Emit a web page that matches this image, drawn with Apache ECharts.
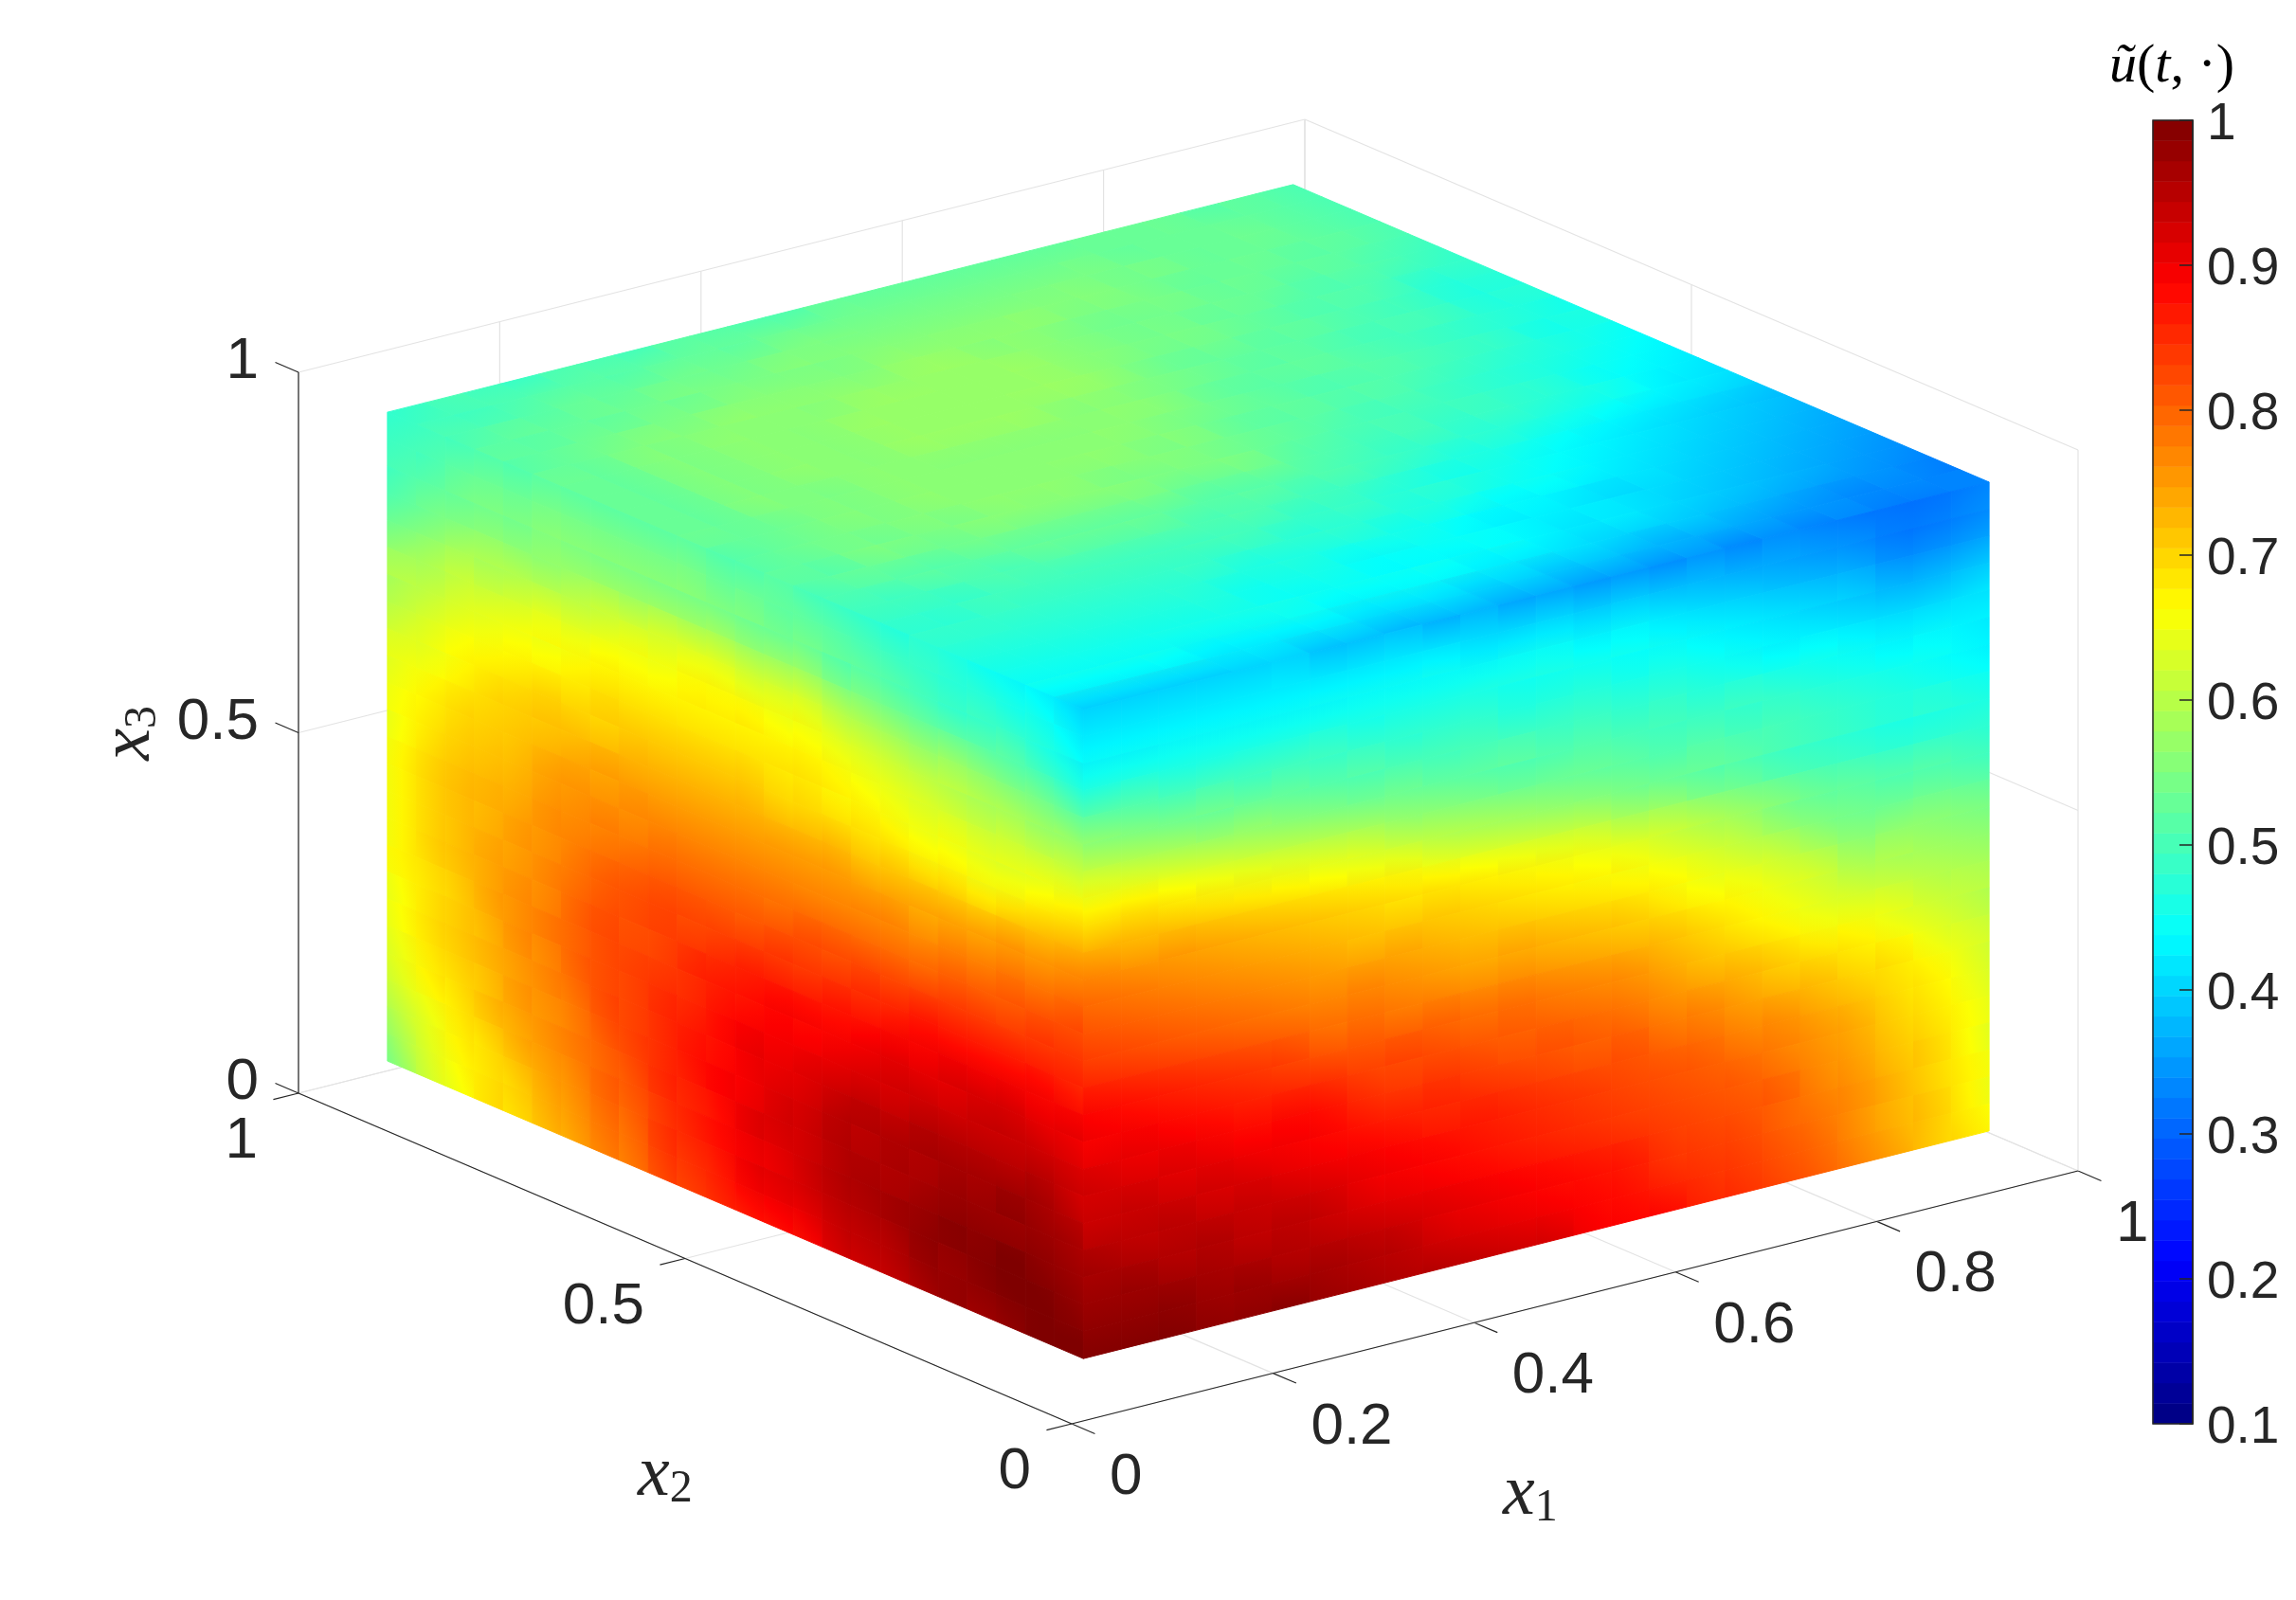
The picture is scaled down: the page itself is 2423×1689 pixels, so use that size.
<!DOCTYPE html>
<html>
<head>
<meta charset="utf-8">
<title>u tilde</title>
<script src="https://cdn.jsdelivr.net/npm/echarts@6/dist/echarts.min.js"></script>
<style>
  html, body { margin: 0; background: #fff; }
  #chart { width: 2423px; height: 1689px; }
</style>
</head>
<body>
<div id="chart"></div>
<script>
// u values in hundredths, one table per visible face
// top face x3=0.95: rows x2 0.95 -> 0.05, cols x1 0.05 -> 0.95
const topFace = [
  [49,50,50,50,51,51,51,52,52,52,52,53,53,53,53,53,53,53,53,53,53,52,52,51],
  [50,50,51,52,52,52,53,53,53,54,54,54,54,54,54,54,54,54,53,53,53,53,52,51],
  [51,52,52,53,53,54,54,54,55,55,55,55,55,55,55,55,55,54,54,53,53,53,52,51],
  [52,52,53,53,54,54,55,55,55,55,56,56,56,56,56,55,55,54,53,53,53,52,52,51],
  [52,53,54,55,55,56,56,56,56,56,57,57,56,56,55,54,54,54,53,53,52,52,51,50],
  [53,53,55,55,56,56,56,56,57,57,57,57,57,56,55,54,54,53,53,52,51,51,50,49],
  [53,53,55,55,56,56,56,57,57,57,57,57,57,56,55,54,54,53,52,51,51,50,48,48],
  [53,53,55,55,56,56,56,57,57,57,57,57,57,56,54,53,53,52,52,51,50,49,47,47],
  [53,53,55,55,56,56,56,57,57,57,57,56,56,55,54,53,52,52,51,50,50,49,47,47],
  [53,53,55,55,55,56,56,56,56,56,56,56,56,55,53,52,52,52,51,50,49,48,47,46],
  [53,53,54,55,55,56,56,56,56,56,56,56,55,54,53,52,51,51,51,50,49,48,46,46],
  [52,53,54,55,55,56,56,56,56,56,56,55,55,53,52,52,51,51,50,49,48,47,46,45],
  [52,53,54,54,55,55,56,56,56,55,55,55,54,53,52,51,50,50,49,48,47,46,45,44],
  [52,52,54,54,54,55,55,55,55,55,54,54,54,52,51,50,50,49,49,48,47,45,44,43],
  [51,52,52,52,53,53,53,53,53,53,52,52,52,51,50,49,49,48,48,47,46,45,43,42],
  [50,50,51,51,51,52,52,52,52,51,51,51,50,50,49,48,47,47,46,45,44,43,42,41],
  [49,49,49,50,50,50,50,50,50,50,50,49,49,48,47,46,46,45,44,43,42,41,40,39],
  [48,48,49,49,49,49,49,49,49,49,48,48,48,47,47,46,45,44,43,42,41,40,39,38],
  [48,48,48,48,48,48,48,48,47,47,47,47,46,46,45,44,44,43,42,41,40,39,38,37],
  [47,47,47,47,47,47,47,46,46,46,45,45,45,44,43,43,42,41,41,40,39,38,37,36],
  [46,46,46,46,46,46,46,45,45,45,44,44,44,44,43,42,42,41,40,39,38,37,36,35],
  [45,45,45,45,45,45,45,45,44,44,44,44,43,43,42,41,41,40,39,38,37,36,35,34],
  [44,44,44,44,43,43,43,43,42,42,42,41,41,40,40,39,38,38,37,36,35,34,34,33],
  [41,41,41,41,41,41,40,40,39,39,39,38,38,37,37,36,36,35,35,34,34,33,33,33]
]
// left face x1=0.05: rows x3 0.95 -> 0.05, cols x2 0.95 -> 0.05
const leftFace = [
  [49,50,51,52,52,53,53,53,53,53,53,52,52,52,51,50,49,48,48,47,46,45,44,42],
  [50,51,53,54,54,55,55,55,55,55,55,54,54,53,53,52,51,50,49,48,48,47,46,44],
  [51,53,54,55,55,56,56,56,56,56,56,56,55,55,55,53,53,52,51,50,50,50,48,46],
  [53,55,57,58,58,58,59,60,60,61,61,61,60,60,60,58,57,56,55,55,54,53,52,50],
  [56,58,60,60,61,62,62,63,64,64,65,65,64,64,64,62,61,60,59,59,58,57,56,55],
  [59,60,62,63,64,65,65,66,66,66,67,67,67,66,66,65,64,63,62,61,60,60,59,59],
  [60,62,64,65,66,66,67,68,68,68,68,68,68,68,68,67,66,65,64,64,63,63,63,63],
  [62,64,66,67,68,69,69,70,70,70,70,70,70,69,69,68,68,67,66,66,65,65,66,67],
  [64,65,67,69,70,71,71,71,72,72,72,72,72,71,71,71,70,70,69,69,68,69,70,71],
  [65,67,69,70,71,72,73,74,74,74,74,74,74,74,74,74,73,73,73,73,73,74,74,75],
  [66,68,70,71,72,74,75,75,76,76,76,76,76,76,76,76,76,76,75,76,76,77,77,78],
  [66,69,71,72,73,75,76,77,77,78,78,78,78,78,78,78,78,78,78,79,79,80,80,81],
  [67,70,72,73,74,76,77,78,79,80,80,80,80,80,81,81,81,81,81,82,82,82,83,83],
  [67,70,72,73,75,76,78,80,81,82,82,82,82,83,83,83,84,84,85,85,85,85,85,85],
  [67,70,72,74,75,77,79,81,82,83,83,84,85,85,85,86,86,87,88,88,88,88,88,87],
  [67,70,72,74,76,77,80,82,82,83,85,86,87,88,88,88,89,90,90,91,91,91,90,90],
  [67,69,71,74,76,78,80,82,83,84,85,87,88,89,89,90,91,92,92,92,93,93,92,91],
  [66,69,71,73,76,77,80,82,83,85,86,88,90,90,91,92,93,93,94,94,94,94,94,93],
  [66,69,71,73,75,77,79,82,83,85,87,88,90,91,92,94,95,95,96,96,96,96,96,94],
  [65,68,70,72,75,76,78,81,83,85,87,89,90,92,93,95,95,96,96,97,97,98,97,96],
  [64,67,69,72,74,76,78,80,82,85,86,88,91,92,93,95,96,96,97,98,98,98,98,97],
  [62,65,68,70,73,75,77,80,81,84,86,88,90,91,93,95,96,97,98,99,99,100,99,98],
  [60,64,67,69,71,74,76,79,80,84,85,87,90,91,92,94,95,96,98,98,99,100,100,99],
  [58,63,66,69,70,73,75,78,79,83,84,86,88,89,90,93,94,95,97,98,98,99,100,100]
]
// right face x2=0.05: rows x3 0.95 -> 0.05, cols x1 0.05 -> 0.95
const rightFace = [
  [41,41,41,41,41,41,40,40,40,39,39,38,38,37,37,36,36,35,35,34,33,32,32,33],
  [43,43,43,43,43,43,43,43,43,43,42,42,42,41,41,40,39,38,37,36,35,33,33,34],
  [45,45,45,45,45,45,45,45,45,45,45,45,45,44,44,43,42,41,40,39,38,36,36,37],
  [49,49,48,48,48,48,48,47,47,47,47,46,46,46,45,45,44,43,42,41,40,39,39,40],
  [54,53,52,52,51,51,50,50,49,49,49,48,48,48,47,47,46,45,44,44,43,42,42,42],
  [58,57,56,55,55,54,53,52,52,51,51,51,50,50,49,49,48,48,47,46,45,44,44,43],
  [63,62,61,60,59,58,57,56,55,54,53,52,52,52,51,50,50,49,49,48,47,46,45,44],
  [67,67,66,65,64,63,62,61,59,58,57,56,55,54,53,52,52,51,50,49,48,47,47,46],
  [71,71,70,69,68,67,66,65,64,62,61,60,59,58,56,55,53,52,50,49,48,47,47,47],
  [75,74,74,73,72,71,70,69,68,67,66,65,64,63,61,60,58,56,54,52,51,50,50,49],
  [78,77,76,75,74,73,72,71,70,70,69,68,67,66,65,63,61,59,56,54,53,52,52,51],
  [80,79,78,77,76,75,74,73,73,72,71,70,69,68,67,66,64,62,60,57,55,55,55,54],
  [82,81,80,79,78,77,76,76,75,74,73,73,72,71,70,68,66,65,63,61,58,58,57,56],
  [84,83,82,81,80,79,78,78,77,76,75,75,74,73,72,71,69,67,65,63,61,60,59,58],
  [87,86,85,84,83,82,80,80,79,79,78,78,77,76,75,73,71,69,67,65,64,63,61,60],
  [89,88,87,86,85,84,83,82,82,81,80,80,79,78,77,75,73,72,70,68,67,65,63,61],
  [90,90,89,88,87,87,86,84,83,83,82,81,81,80,79,77,76,74,72,71,69,68,65,63],
  [92,91,91,90,89,89,88,86,85,85,84,83,82,81,81,79,78,76,75,73,71,69,67,64],
  [93,93,92,92,91,90,89,88,87,86,86,85,84,83,82,81,80,78,77,75,73,70,68,65],
  [94,94,94,93,93,92,91,90,89,88,87,86,85,84,83,82,81,80,78,76,74,71,69,66],
  [96,95,95,95,94,94,93,91,90,89,88,87,86,85,84,83,82,81,80,77,75,72,70,66],
  [97,97,96,96,95,95,94,93,92,91,90,89,88,87,86,84,83,82,80,78,76,73,70,67],
  [98,98,98,97,97,96,96,95,94,92,91,90,89,88,87,85,84,83,81,79,76,73,71,67],
  [99,99,99,98,98,98,97,96,95,94,93,92,91,89,88,87,85,84,82,80,77,74,71,68]
]

const x1Ticks = [0, 0.2, 0.4, 0.6, 0.8, 1]
const x2Ticks = [0, 0.5, 1]
const x3Ticks = [0, 0.5, 1]
const jetStops = ['#00007f', '#0000ff', '#007fff', '#00ffff', '#7fff7f', '#ffff00', '#ff7f00', '#ff0000', '#7f0000']

const textColor = '#262626'
const gridColor = '#e3e3e3'
const lo = 0.05
const hi = 0.95

// fixed MATLAB view, cube coordinates -> plot units
function project(x1, x2, x3) {
  return [1131 + 1062 * x1 - 816 * x2, 1503 - 267 * x1 - 349 * x2 - 761 * x3]
}

// colour of a value in hundredths
function jetColor(v) {
  const t = (v / 100 - 0.1) / 0.9
  return echarts.color.lerp(Math.max(0, Math.min(1, t)), jetStops)
}

// the colorbar keeps the 64 flat levels of the colormap
function jetLevel(i) {
  return echarts.color.lerp((i + 0.5) / 64, jetStops)
}

// maps a table position (row, col as fractions) to cube coordinates on its face
const faceTo3d = {
  top: (r, c) => [lo + (hi - lo) * c, hi - (hi - lo) * r, hi],
  left: (r, c) => [lo, hi - (hi - lo) * c, hi - (hi - lo) * r],
  right: (r, c) => [lo + (hi - lo) * c, lo, hi - (hi - lo) * r]
}

function faceSeries(name, table) {
  const data = []
  table.forEach((row, r) => row.forEach((v, c) => data.push([r, c, v])))
  const nr = table.length
  const nc = table[0].length
  return {
    type: 'custom',
    name: name,
    coordinateSystem: 'cartesian2d',
    xAxisIndex: 0,
    yAxisIndex: 0,
    silent: true,
    animation: false,
    data: data,
    encode: { x: 1, y: 0 },
    renderItem: (params, api) => {
      const r = api.value(0)
      const c = api.value(1)
      const v = api.value(2)
      const corners = [[r, c], [r, c + 1], [r + 1, c + 1], [r + 1, c]].map(p => {
        const q = faceTo3d[name](p[0] / nr, p[1] / nc)
        return api.coord(project(q[0], q[1], q[2]))
      })
      // shade the cell along the slope towards its neighbours so the steps don't show
      const c0 = Math.max(0, c - 1)
      const c1 = Math.min(nc - 1, c + 1)
      const r0 = Math.max(0, r - 1)
      const r1 = Math.min(nr - 1, r + 1)
      const dc = (table[r][c1] - table[r][c0]) / (c1 - c0)
      const dr = (table[r1][c] - table[r0][c]) / (r1 - r0)
      const ec = [corners[1][0] - corners[0][0], corners[1][1] - corners[0][1]]
      const er = [corners[3][0] - corners[0][0], corners[3][1] - corners[0][1]]
      const det = ec[0] * er[1] - ec[1] * er[0]
      const gx = (dc * er[1] - dr * ec[1]) / det
      const gy = (ec[0] * dr - er[0] * dc) / det
      const g = Math.hypot(gx, gy)
      let fill = jetColor(v)
      if (g > 0) {
        const cx = corners[0][0] + (ec[0] + er[0]) / 2
        const cy = corners[0][1] + (ec[1] + er[1]) / 2
        const len = Math.max(Math.hypot(ec[0] + er[0], ec[1] + er[1]), Math.hypot(ec[0] - er[0], ec[1] - er[1])) / 2
        const ux = gx / g * len
        const uy = gy / g * len
        fill = new echarts.graphic.LinearGradient(cx - ux, cy - uy, cx + ux, cy + uy, [
          { offset: 0, color: jetColor(v - len * g) },
          { offset: 0.5, color: jetColor(v) },
          { offset: 1, color: jetColor(v + len * g) }
        ], true)
      }
      return {
        type: 'polygon',
        shape: { points: corners },
        style: { fill: fill, stroke: fill, lineWidth: 1 }
      }
    }
  }
}

// box lines: [from, to, color]
const segments = []
function seg(a, b, color) {
  segments.push([a, b, color])
}
x1Ticks.forEach(t => {
  seg([t, 0, 0], [t, 1, 0], gridColor)
  seg([t, 1, 0], [t, 1, 1], gridColor)
  seg([t, 0, 0], [t, -0.03, 0], textColor)
})
x2Ticks.forEach(t => {
  seg([0, t, 0], [1, t, 0], gridColor)
  seg([1, t, 0], [1, t, 1], gridColor)
  seg([0, t, 0], [-0.025, t, 0], textColor)
})
x3Ticks.forEach(t => {
  seg([0, 1, t], [1, 1, t], gridColor)
  seg([1, 1, t], [1, 0, t], gridColor)
  seg([0, 1, t], [0, 1.03, t], textColor)
})
seg([0, 0, 0], [1, 0, 0], textColor)
seg([0, 0, 0], [0, 1, 0], textColor)
seg([0, 1, 0], [0, 1, 1], textColor)

const boxSeries = {
  type: 'custom',
  coordinateSystem: 'cartesian2d',
  xAxisIndex: 0,
  yAxisIndex: 0,
  silent: true,
  animation: false,
  z: 1,
  data: segments.map((s, i) => [i]),
  renderItem: (params, api) => {
    const s = segments[api.value(0)]
    const a = api.coord(project(s[0][0], s[0][1], s[0][2]))
    const b = api.coord(project(s[1][0], s[1][1], s[1][2]))
    return {
      type: 'line',
      shape: { x1: a[0], y1: a[1], x2: b[0], y2: b[1] },
      style: { stroke: s[2], lineWidth: 1.2 }
    }
  }
}

// tick labels: [text, x1, x2, x3, dx, dy, align]
const tickLabels = []
x1Ticks.forEach(t => tickLabels.push([String(t), t, 0, 0, 40, 57, 'left']))
x2Ticks.forEach(t => tickLabels.push([String(t), 0, t, 0, -43, 51, 'right']))
x3Ticks.forEach(t => tickLabels.push([String(t), 0, 1, t, -42, -11, 'right']))

const labelSeries = {
  type: 'custom',
  coordinateSystem: 'cartesian2d',
  xAxisIndex: 0,
  yAxisIndex: 0,
  silent: true,
  animation: false,
  z: 6,
  data: tickLabels.map((s, i) => [i]),
  renderItem: (params, api) => {
    const s = tickLabels[api.value(0)]
    const p = api.coord(project(s[1], s[2], s[3]))
    return {
      type: 'text',
      x: p[0] + s[4],
      y: p[1] + s[5],
      style: {
        text: s[0],
        fill: textColor,
        font: '62px "Liberation Sans"',
        textAlign: s[6],
        textVerticalAlign: 'middle'
      }
    }
  }
}

const bands = []
for (let i = 0; i < 64; i++) bands.push([i])

const colorbarSeries = {
  type: 'custom',
  coordinateSystem: 'cartesian2d',
  xAxisIndex: 1,
  yAxisIndex: 1,
  silent: true,
  animation: false,
  data: bands,
  encode: { x: 0 },
  renderItem: (params, api) => {
    const i = api.value(0)
    const a = api.coord([0, 0.1 + 0.9 * (i + 1) / 64])
    const b = api.coord([1, 0.1 + 0.9 * i / 64])
    const c = jetLevel(i)
    return {
      type: 'rect',
      shape: { x: a[0], y: a[1], width: b[0] - a[0], height: b[1] - a[1] },
      style: { fill: c, stroke: c, lineWidth: 0.5 }
    }
  }
}

const serif = '"Liberation Serif"'
const mathRich = {
  i: { fontFamily: serif, fontStyle: 'italic', fontSize: 76, fill: textColor },
  s: { fontFamily: serif, fontSize: 48, fill: textColor, verticalAlign: 'bottom', padding: [28, 0, 0, 0] }
}

const option = {
  backgroundColor: '#fff',
  animation: false,
  grid: [
    { left: 0, top: 0, width: 2423, height: 1689, show: false },
    { left: 2272, top: 127, width: 42, height: 1376, show: true, borderColor: textColor, borderWidth: 1.5, z: 5 }
  ],
  xAxis: [
    { type: 'value', gridIndex: 0, min: 0, max: 2423, show: false },
    { type: 'value', gridIndex: 1, min: 0, max: 1, show: false }
  ],
  yAxis: [
    { type: 'value', gridIndex: 0, min: 0, max: 1689, inverse: true, show: false },
    {
      type: 'value',
      gridIndex: 1,
      position: 'right',
      min: 0.1,
      max: 1,
      interval: 0.1,
      z: 6,
      axisLine: { show: true, onZero: false, lineStyle: { color: textColor, width: 1.5 } },
      axisTick: { show: true, inside: true, length: 14, lineStyle: { color: textColor, width: 1.5 } },
      splitLine: { show: false },
      axisLabel: {
        margin: 15,
        formatter: v => '{a|' + v + '}',
        rich: { a: { color: textColor, fontFamily: 'Liberation Sans', fontSize: 55, padding: [10, 0, 0, 0] } }
      }
    }
  ],
  graphic: [
    {
      type: 'text', left: 1586, top: 1540, z: 10,
      style: { text: '{i|x}{s|1}', rich: mathRich }
    },
    {
      type: 'text', left: 673, top: 1520, z: 10,
      style: { text: '{i|x}{s|2}', rich: mathRich }
    },
    {
      type: 'text', left: 99, top: 745, rotation: Math.PI / 2, z: 10,
      style: { text: '{i|x}{s|3}', rich: mathRich }
    },
    {
      type: 'text', left: 2226, top: 42, z: 10,
      style: {
        text: '{i|ũ}{r|(}{i|t}{r|, ·)}',
        rich: {
          i: { fontFamily: serif, fontStyle: 'italic', fontSize: 58, fill: '#000' },
          r: { fontFamily: serif, fontSize: 58, fill: '#000' }
        }
      }
    }
  ],
  series: [
    boxSeries,
    faceSeries('top', topFace),
    faceSeries('left', leftFace),
    faceSeries('right', rightFace),
    colorbarSeries,
    labelSeries
  ]
}

const myChart = echarts.init(document.getElementById('chart'))
myChart.setOption(option)
</script>
</body>
</html>
